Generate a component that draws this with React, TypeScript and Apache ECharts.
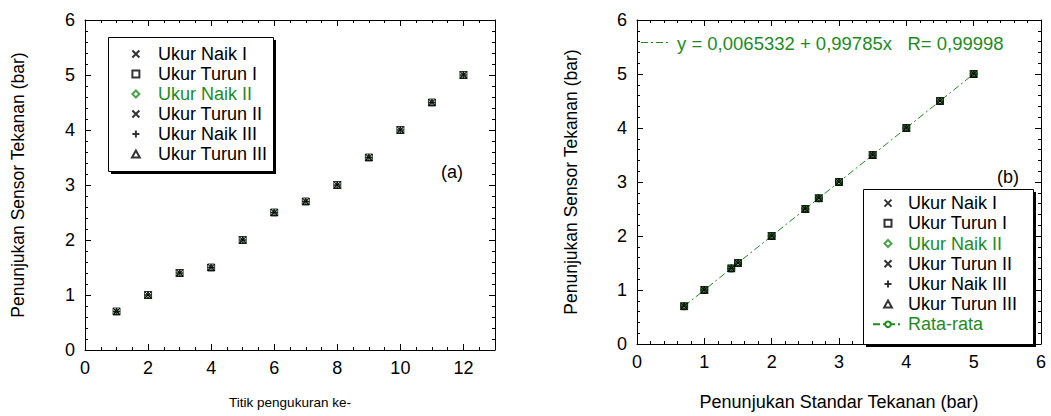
import React, { useEffect, useRef } from "react";
import * as echarts from "echarts";

const FONT = "'Liberation Sans', Arial, Helvetica, sans-serif";
const GREEN = "#1f8a1f";

// measurement points (left chart x)
const titik = [1, 2, 3, 4, 5, 6, 7, 8, 9, 10, 11, 12];
// standard pressure (right chart x)
const standar = [0.7, 1.0, 1.4, 1.5, 2.0, 2.5, 2.7, 3.0, 3.5, 4.0, 4.5, 5.0];
// sensor readings per run
const ukurNaikI = [0.7, 1.0, 1.4, 1.5, 2.0, 2.5, 2.7, 3.0, 3.5, 4.0, 4.5, 5.0];
const ukurTurunI = [0.7, 1.0, 1.4, 1.5, 2.0, 2.5, 2.7, 3.0, 3.5, 4.0, 4.5, 5.0];
const ukurNaikII = [0.7, 1.0, 1.4, 1.5, 2.0, 2.5, 2.7, 3.0, 3.5, 4.0, 4.5, 5.0];
const ukurTurunII = [0.7, 1.0, 1.4, 1.5, 2.0, 2.5, 2.7, 3.0, 3.5, 4.0, 4.5, 5.0];
const ukurNaikIII = [0.7, 1.0, 1.4, 1.5, 2.0, 2.5, 2.7, 3.0, 3.5, 4.0, 4.5, 5.0];
const ukurTurunIII = [0.7, 1.0, 1.4, 1.5, 2.0, 2.5, 2.7, 3.0, 3.5, 4.0, 4.5, 5.0];
const rataRata = [0.7, 1.0, 1.4, 1.5, 2.0, 2.5, 2.7, 3.0, 3.5, 4.0, 4.5, 5.0];

const seriesNames = [
  "Ukur Naik I",
  "Ukur Turun I",
  "Ukur Naik II",
  "Ukur Turun II",
  "Ukur Naik III",
  "Ukur Turun III",
];
const seriesValues = [ukurNaikI, ukurTurunI, ukurNaikII, ukurTurunII, ukurNaikIII, ukurTurunIII];
const avgName = "Rata-rata";
const equation = "y = 0,0065332 + 0,99785x   R= 0,99998";

const X_PATH = "path://M0,0L10,10M10,0L0,10";
const PLUS_PATH = "path://M5,0L5,10M0,5L10,5";
const SQUARE_PATH = "path://M0,0L10,0L10,10L0,10Z";
const DIAMOND_PATH = "path://M5,0L10,5L5,10L0,5Z";
const TRIANGLE_PATH = "path://M5,0L10,9L0,9Z";

const hollow = (c: string) => ({ color: "none", borderColor: c, borderWidth: 1 });
const symbolStyles: any[] = [
  { symbol: X_PATH, symbolSize: 7, itemStyle: hollow("#000") },
  { symbol: SQUARE_PATH, symbolSize: 7, itemStyle: hollow("#000") },
  { symbol: DIAMOND_PATH, symbolSize: 6, itemStyle: hollow(GREEN) },
  { symbol: X_PATH, symbolSize: 7, itemStyle: hollow("#000") },
  { symbol: PLUS_PATH, symbolSize: 7, itemStyle: hollow("#000") },
  { symbol: TRIANGLE_PATH, symbolSize: 6, itemStyle: hollow("#000") },
];

const lineBlack = { show: true, onZero: false, lineStyle: { color: "#000", width: 1 } };
const labelStyle = { fontSize: 18, color: "#000", fontFamily: FONT };

function App() {
  const ref = useRef<HTMLDivElement>(null);
  useEffect(() => {
    if (!ref.current) return;
    const chart = echarts.init(ref.current, undefined, { renderer: "svg" });

    const xAxis: any[] = [
      // 0: left grid bottom major
      {
        gridIndex: 0, type: "value", position: "bottom", min: 0, max: 13, interval: 2,
        axisLine: lineBlack,
        axisTick: { show: true, inside: true, length: 6, lineStyle: { color: "#000" } },
        axisLabel: { ...labelStyle, margin: 9, formatter: (v: number) => (v > 12 ? "" : String(v)) },
        splitLine: { show: false },
        name: "Titik pengukuran ke-", nameLocation: "middle", nameGap: 45,
        nameTextStyle: { fontSize: 13.5, color: "#000", fontFamily: FONT },
      },
      // 1: left grid bottom minor
      {
        gridIndex: 0, type: "value", position: "bottom", min: 0, max: 13, interval: 0.5,
        axisLine: { show: false, onZero: false },
        axisTick: { show: true, inside: true, length: 3, lineStyle: { color: "#000" } },
        axisLabel: { show: false }, splitLine: { show: false },
      },
      // 2: left grid top major
      {
        gridIndex: 0, type: "value", position: "top", min: 0, max: 13, interval: 2,
        axisLine: lineBlack,
        axisTick: { show: true, inside: true, length: 6, lineStyle: { color: "#000" } },
        axisLabel: { show: false }, splitLine: { show: false },
      },
      // 3: left grid top minor
      {
        gridIndex: 0, type: "value", position: "top", min: 0, max: 13, interval: 0.5,
        axisLine: { show: false, onZero: false },
        axisTick: { show: true, inside: true, length: 3, lineStyle: { color: "#000" } },
        axisLabel: { show: false }, splitLine: { show: false },
      },
      // 4: right grid bottom
      {
        gridIndex: 1, type: "value", position: "bottom", min: 0, max: 6, interval: 1,
        axisLine: lineBlack,
        axisTick: { show: true, inside: true, length: 6, lineStyle: { color: "#000" } },
        minorTick: { show: true, splitNumber: 5, length: 3, lineStyle: { color: "#000" } },
        axisLabel: { ...labelStyle, margin: 9 },
        splitLine: { show: false },
        name: "Penunjukan Standar Tekanan (bar)", nameLocation: "middle", nameGap: 49,
        nameTextStyle: { fontSize: 18, color: "#000", fontFamily: FONT },
      },
      // 5: right grid top
      {
        gridIndex: 1, type: "value", position: "top", min: 0, max: 6, interval: 1,
        axisLine: lineBlack,
        axisTick: { show: true, inside: true, length: 6, lineStyle: { color: "#000" } },
        minorTick: { show: true, splitNumber: 5, length: 3, lineStyle: { color: "#000" } },
        axisLabel: { show: false }, splitLine: { show: false },
      },
    ];

    const yAxis: any[] = [0, 1].flatMap((g) => [
      {
        gridIndex: g, type: "value", position: "left", min: 0, max: 6, interval: 1,
        axisLine: lineBlack,
        axisTick: { show: true, inside: true, length: 6, lineStyle: { color: "#000" } },
        minorTick: { show: true, splitNumber: 5, length: 3, lineStyle: { color: "#000" } },
        axisLabel: { ...labelStyle, margin: 10 },
        splitLine: { show: false },
        name: "Penunjukan Sensor Tekanan (bar)", nameLocation: "middle", nameGap: g === 0 ? 58 : 57,
        nameTextStyle: { fontSize: 17.5, color: "#000", fontFamily: FONT },
      },
      {
        gridIndex: g, type: "value", position: "right", min: 0, max: 6, interval: 1,
        axisLine: lineBlack,
        axisTick: { show: true, inside: true, length: 6, lineStyle: { color: "#000" } },
        minorTick: { show: true, splitNumber: 5, length: 3, lineStyle: { color: "#000" } },
        axisLabel: { show: false }, splitLine: { show: false },
      },
    ]);

    const series: any[] = [];
    seriesNames.forEach((name, i) => {
      series.push({
        name, type: "scatter", xAxisIndex: 0, yAxisIndex: 0,
        ...symbolStyles[i],
        data: titik.map((x, k) => [x, seriesValues[i][k]]),
      });
    });
    series.push({
      name: avgName, type: "line", xAxisIndex: 4, yAxisIndex: 2,
      symbol: "emptyCircle", symbolSize: 6,
      itemStyle: { color: GREEN, borderColor: GREEN },
      lineStyle: { color: GREEN, width: 1, type: [7, 3, 2, 3] },
      data: standar.map((x, k) => [x, rataRata[k]]),
      z: 1,
    });
    seriesNames.forEach((name, i) => {
      series.push({
        name, type: "scatter", xAxisIndex: 4, yAxisIndex: 2,
        ...symbolStyles[i],
        data: standar.map((x, k) => [x, seriesValues[i][k]]),
      });
    });

    const legendItem = (name: string) => ({
      name,
      textStyle: { color: name === "Ukur Naik II" || name === avgName ? GREEN : "#000" },
    });

    const legendCommon = {
      orient: "vertical",
      selectedMode: false,
      itemHeight: 7,
      itemGap: 0,
      textStyle: { fontSize: 18, fontFamily: FONT, color: "#000", lineHeight: 20 },
      z: 6,
    };

    chart.setOption({
      animation: false,
      backgroundColor: "#fff",
      grid: [
        { left: 85, top: 20, width: 410, height: 330 },
        { left: 637, top: 20, width: 404, height: 330 },
      ],
      xAxis,
      yAxis,
      legend: [
        {
          ...legendCommon,
          itemWidth: 34,
          left: 108, top: 37, padding: [7, 5, 7, 21.5],
          data: seriesNames.map(legendItem),
        },
        {
          ...legendCommon,
          itemWidth: 30,
          textStyle: { ...legendCommon.textStyle, lineHeight: 20.2 },
          left: 863, top: 189, padding: [4, 5, 4, 9],
          data: [...seriesNames, avgName].map(legendItem),
        },
      ],
      graphic: [
        { type: "rect", z: 3, shape: { x: 111, y: 40, width: 165, height: 134 }, style: { fill: "#000" } },
        { type: "rect", z: 3, shape: { x: 108.5, y: 37.5, width: 165, height: 134 }, style: { fill: "#fff", stroke: "#000", lineWidth: 1 } },
        { type: "rect", z: 3, shape: { x: 866, y: 192, width: 170, height: 155 }, style: { fill: "#000" } },
        { type: "rect", z: 3, shape: { x: 863.5, y: 189.5, width: 170, height: 155 }, style: { fill: "#fff", stroke: "#000", lineWidth: 1 } },
        { type: "text", z: 5, x: 441, y: 172, style: { text: "(a)", font: `18px ${FONT}`, fill: "#000", verticalAlign: "middle" } },
        { type: "text", z: 5, x: 997, y: 177, style: { text: "(b)", font: `18px ${FONT}`, fill: "#000", verticalAlign: "middle" } },
        { type: "line", z: 5, shape: { x1: 641, y1: 42.5, x2: 669, y2: 42.5 }, style: { stroke: GREEN, lineWidth: 1, lineDash: [7, 3, 2, 3] } },
        { type: "text", z: 5, x: 677, y: 43, style: { text: equation, font: `18.5px ${FONT}`, fill: GREEN, verticalAlign: "middle" } },
      ],
      series,
    });
    return () => chart.dispose();
  }, []);
  return <div ref={ref} style={{ position: "fixed", left: 0, top: 0, width: 1051, height: 416 }} />;
}

export default App;
